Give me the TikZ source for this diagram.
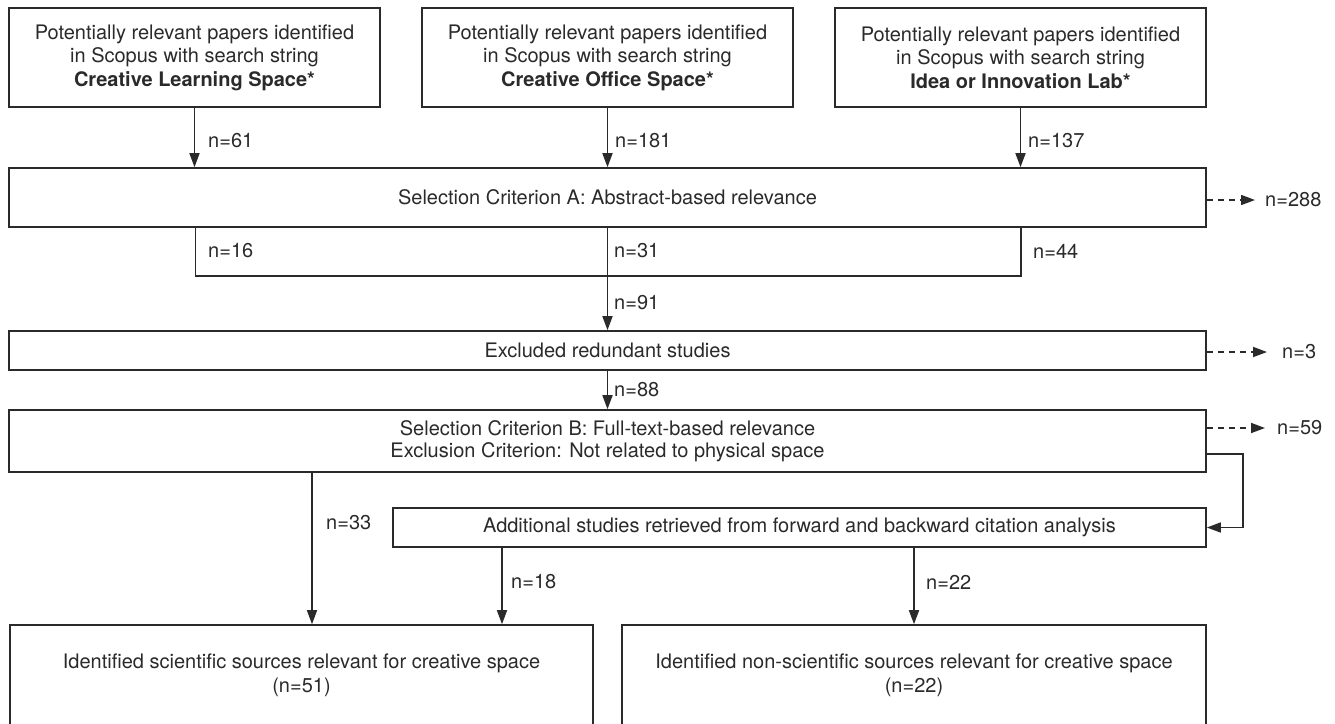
\documentclass[tikz,border=0pt]{standalone}
\usepackage{fontspec}
\setmainfont{TeX Gyre Heros}
\usetikzlibrary{arrows.meta}
\definecolor{ink}{HTML}{2A2A2A}
\begin{document}
\begin{tikzpicture}[x=1pt,y=-1pt,
  txt/.style={font=\fontsize{20}{23.5}\selectfont, text=ink},
  box/.style={txt, draw=ink, line width=1.6pt, inner sep=0pt, align=center},
  lbl/.style={txt, anchor=west, inner sep=0pt},
  conn/.style={draw=ink, line width=1.6pt},
  arr/.style={conn, -{Triangle[length=14pt,width=10pt]}},
  darr/.style={arr, dash pattern=on 6pt off 5pt}]
\useasboundingbox (0,0) rectangle (1335,723);
\clip (0,0) rectangle (1335,723);
% top boxes
\node[box, minimum width=371, minimum height=99] (box1) at (194.5,57.5)
  {Potentially relevant papers identified\\in Scopus with search string\\\textbf{Creative Learning Space*}};
\node[box, minimum width=371, minimum height=99] (box2) at (607.5,57.5)
  {Potentially relevant papers identified\\in Scopus with search string\\\textbf{Creative Office Space*}};
\node[box, minimum width=371, minimum height=99] (box3) at (1020.5,57.5)
  {Potentially relevant papers identified\\in Scopus with search string\\\textbf{Idea or Innovation Lab*}};
% main boxes
\node[box, minimum width=1197, minimum height=59] (boxA) at (607.5,197.5)
  {Selection Criterion A: Abstract-based relevance};
\node[box, minimum width=1197, minimum height=39] (excl) at (607.5,350.5)
  {Excluded redundant studies};
\node[box, minimum width=1197, minimum height=62, font=\fontsize{20}{22}\selectfont] (boxB) at (607.5,441)
  {Selection Criterion B: Full-text-based relevance\\Exclusion Criterion: Not related to physical space};
\node[box, minimum width=813, minimum height=39] (add) at (799.5,527.5)
  {Additional studies retrieved from forward and backward citation analysis};
\node[box, minimum width=583, minimum height=101] (bot1) at (301.5,675.5)
  {Identified scientific sources relevant for creative space\\(n=51)};
\node[box, minimum width=584, minimum height=101] (bot2) at (914,675.5)
  {Identified non-scientific sources relevant for creative space\\(n=22)};
% labels
\node[lbl] (l61) at (208,141) {n=61};
\node[lbl] (l181) at (615,141) {n=181};
\node[lbl] (l137) at (1028,141) {n=137};
\node[lbl] (l16) at (208,251) {n=16};
\node[lbl] (l31) at (614,251) {n=31};
\node[lbl] (l44) at (1033,251) {n=44};
\node[lbl] (l91) at (614,303) {n=91};
\node[lbl] (l88) at (614,390) {n=88};
\node[lbl] (l33) at (326,523) {n=33};
\node[lbl] (l18) at (511,582) {n=18};
\node[lbl] (l22) at (926,582) {n=22};
\node[lbl] (o288) at (1265,200) {n=288};
\node[lbl] (o3) at (1282,352) {n=3};
\node[lbl] (o59) at (1277,428) {n=59};
% top arrows
\draw[arr] (box1.south) -- (box1.south |- boxA.north);
\draw[arr] (box2.south) -- (box2.south |- boxA.north);
\draw[arr] (box3.south) -- (box3.south |- boxA.north);
% bracket
\coordinate (b1) at (195.5,276);
\coordinate (b3) at (1021,276);
\draw[conn] (boxA.south -| b1) -- (b1) -- (b3) -- (boxA.south -| b3);
\draw[arr] (boxA.south) -- (excl.north);
\draw[arr] (excl.south) -- (boxB.north);
% dashed exclusions
\draw[darr, shorten >=10pt] (boxA.east |- o288.west) -- (o288.west);
\draw[darr, shorten >=15pt] (excl.east |- o3.west) -- (o3.west);
\draw[darr, shorten >=12pt] (boxB.east |- o59.west) -- (o59.west);
% feedback
\coordinate (fb) at (1243,454);
\draw[arr] (boxB.east |- fb) -- (fb) -- (fb |- add.east) -- (add.east);
% bottom arrows
\coordinate (c33) at (312,0);
\coordinate (c18) at (502,0);
\draw[arr] (boxB.south -| c33) -- (bot1.north -| c33);
\draw[arr] (add.south -| c18) -- (bot1.north -| c18);
\draw[arr] (add.south -| bot2.north) -- (bot2.north);
\end{tikzpicture}
\end{document}
